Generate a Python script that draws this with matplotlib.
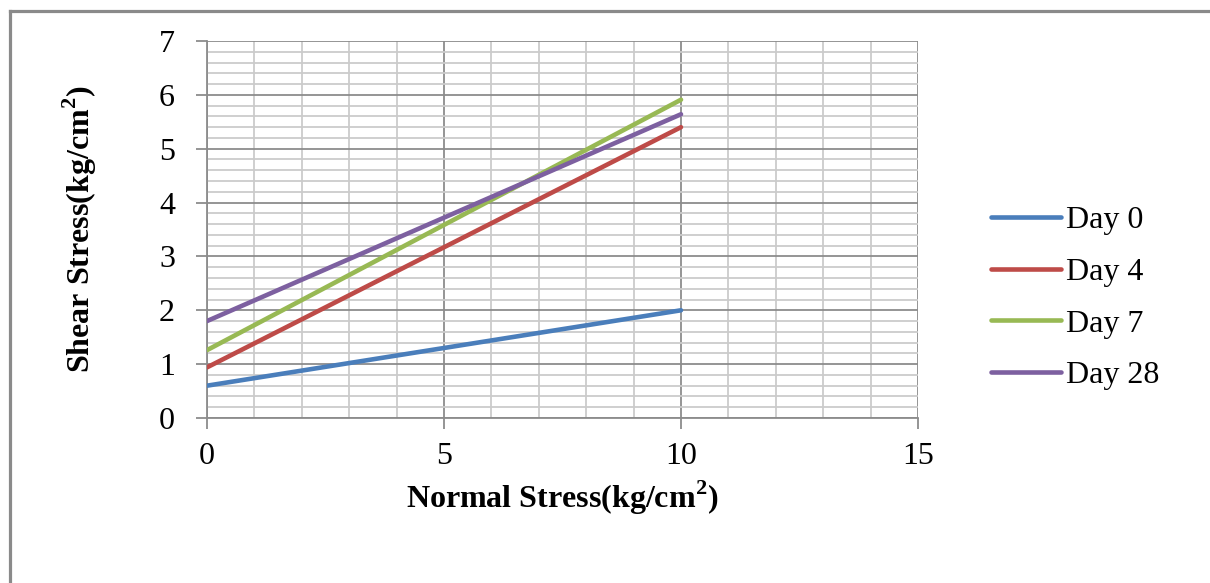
import matplotlib
matplotlib.use("Agg")
import matplotlib.pyplot as plt
from matplotlib.ticker import MultipleLocator
from matplotlib.lines import Line2D

plt.rcParams['font.family'] = ['Liberation Serif', 'DejaVu Serif']
plt.rcParams['mathtext.fontset'] = 'custom'
plt.rcParams['mathtext.rm'] = 'Liberation Serif'
plt.rcParams['mathtext.bf'] = 'Liberation Serif:bold'

normal_stress = [0, 10]
series_names = ["Day 0", "Day 4", "Day 7", "Day 28"]
shear_day0 = [0.60, 2.00]
shear_day4 = [0.94, 5.40]
shear_day7 = [1.26, 5.91]
shear_day28 = [1.80, 5.64]
series_colors = ["#4a7ebb", "#be4b48", "#98b954", "#7d60a0"]

W, H = 1210, 583
fig = plt.figure(figsize=(W / 100, H / 100), dpi=100)

# chart-area frame: only the left and top edges fall inside the image
frame_x, frame_y = 9.5 / W, 1 - 10.5 / H
fig.add_artist(Line2D([frame_x, frame_x], [0, frame_y], transform=fig.transFigure,
                      color="#8a8a8a", linewidth=2.3, solid_capstyle="projecting"))
fig.add_artist(Line2D([frame_x, 1], [frame_y, frame_y], transform=fig.transFigure,
                      color="#8a8a8a", linewidth=2.3, solid_capstyle="projecting"))

ax = fig.add_axes([207 / W, 1 - 418 / H, (918 - 207) / W, (418 - 41) / H])

for name, ys, c in zip(series_names,
                       [shear_day0, shear_day4, shear_day7, shear_day28],
                       series_colors):
    ax.plot(normal_stress, ys, color=c, linewidth=3.3, label=name,
            solid_capstyle="round", zorder=3)

ax.set_xlim(0, 15)
ax.set_ylim(0, 7)
ax.xaxis.set_major_locator(MultipleLocator(5))
ax.xaxis.set_minor_locator(MultipleLocator(1))
ax.yaxis.set_major_locator(MultipleLocator(1))
ax.yaxis.set_minor_locator(MultipleLocator(0.2))

ax.grid(which="minor", color="#cbcbcb", linewidth=1.3)
ax.grid(which="major", color="#8c8c8c", linewidth=1.3)
ax.set_axisbelow(True)
# the last vertical grid line at x = 15 is drawn in the light minor colour
ax.get_xgridlines()[-1].set_color("#cbcbcb")

for s in ["top", "right"]:
    ax.spines[s].set_visible(False)
for s in ["left", "bottom"]:
    ax.spines[s].set_color("#8c8c8c")
    ax.spines[s].set_linewidth(1.3)

ax.tick_params(which="major", length=8, width=1.3, color="#8c8c8c",
               labelsize=23)
ax.tick_params(which="minor", length=0)
ax.tick_params(axis="x", pad=9)
ax.tick_params(axis="y", pad=15)

ax.set_xlabel(r"Normal Stress(kg/cm$^{\mathbf{2}}$)", fontsize=23,
              fontweight="bold", labelpad=6)
ax.set_ylabel(r"Shear Stress(kg/cm$^{\mathbf{2}}$)", fontsize=23,
              fontweight="bold", labelpad=43)

leg = fig.legend(loc="center left", bbox_to_anchor=(962 / W, 1 - 298 / H),
                 frameon=False, fontsize=23, handlelength=2.2,
                 handletextpad=0.15, labelspacing=0.7)

fig.savefig("out.png", dpi=100)
